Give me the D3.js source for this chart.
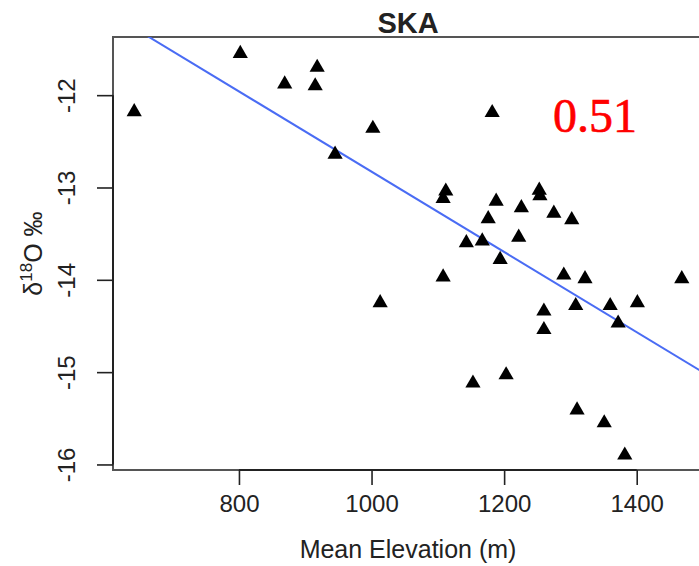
<!DOCTYPE html>
<html lang="en">
<head>
  <meta charset="UTF-8">
  <title>SKA</title>
  <script src="https://cdn.jsdelivr.net/npm/d3@7"></script>
  <style>
    body { margin: 0; background: #fff; }
    svg text { fill: #222; }
    .tick line { stroke: #222; stroke-width: 1.6; }
  </style>
</head>
<body>
  <svg></svg>
  <script>
  // mean elevation (m) and delta 18O (permil) per site
  var elevation = [642, 802, 869, 918, 915, 1002, 945, 1182, 1112, 1108,
    1188, 1176, 1143, 1167, 1194, 1108, 1013, 1253, 1254, 1226,
    1275, 1302, 1222, 1290, 1322, 1468, 1260, 1308, 1360, 1401,
    1372, 1260, 1203, 1310, 1351, 1382, 1153];
  var d18O = [-12.18, -11.55, -11.88, -11.70, -11.90, -12.36, -12.64, -12.19, -13.04, -13.12,
    -13.15, -13.34, -13.60, -13.58, -13.78, -13.97, -14.25, -13.03, -13.09, -13.22,
    -13.28, -13.35, -13.54, -13.95, -13.99, -13.99, -14.34, -14.28, -14.28, -14.25,
    -14.47, -14.54, -15.03, -15.41, -15.55, -15.90, -15.12];
  var xTicks = [800, 1000, 1200, 1400];
  var yTicks = [-16, -15, -14, -13, -12];
  var fitIntercept = -8.482, fitSlope = -0.004347;
  var title = "SKA", label = "0.51";

  var W = 699, H = 566,
    pLeft = 113, pRight = 703, pTop = 37, pBottom = 470,
    SANS = "Liberation Sans, Arial, sans-serif";

  var svg = d3.select("svg").attr("width", W).attr("height", H);

  var x = d3.scaleLinear().domain([610, 1500]).range([pLeft, pRight]);
  var y = d3.scaleLinear().domain([-16.06, -11.37]).range([pBottom, pTop]);

  svg.append("defs").append("clipPath").attr("id", "plot")
    .append("rect").attr("x", pLeft).attr("y", pTop)
    .attr("width", pRight - pLeft).attr("height", pBottom - pTop);

  // box
  svg.append("rect").attr("x", pLeft).attr("y", pTop)
    .attr("width", pRight - pLeft).attr("height", pBottom - pTop)
    .attr("fill", "none").attr("stroke", "#555").attr("stroke-width", 2);

  // axes
  var xAxis = svg.append("g").attr("transform", "translate(0," + pBottom + ")")
    .call(d3.axisBottom(x).tickValues(xTicks).tickSize(15).tickSizeOuter(0)
      .tickPadding(10).tickFormat(d3.format("d")));
  xAxis.select(".domain").remove();
  xAxis.selectAll("text").style("font-size", "24px").style("font-family", SANS);
  svg.append("line")
    .attr("x1", x(xTicks[0])).attr("x2", x(xTicks[xTicks.length - 1]))
    .attr("y1", pBottom).attr("y2", pBottom)
    .attr("stroke", "#222").attr("stroke-width", 2);

  var yAxis = svg.append("g").attr("transform", "translate(" + pLeft + ",0)")
    .call(d3.axisLeft(y).tickValues(yTicks).tickSize(16).tickSizeOuter(0)
      .tickFormat(function(d) { return String(d); }));
  yAxis.select(".domain").remove();
  yAxis.selectAll("text")
    .attr("x", null).attr("dy", null)
    .attr("text-anchor", "middle")
    .style("font-size", "24px").style("font-family", SANS)
    .attr("transform", "translate(-38,0)rotate(-90)");
  svg.append("line")
    .attr("x1", pLeft).attr("x2", pLeft)
    .attr("y1", y(yTicks[0])).attr("y2", y(yTicks[yTicks.length - 1]))
    .attr("stroke", "#222").attr("stroke-width", 2);

  // regression line
  var xs = x.domain();
  svg.append("line")
    .attr("clip-path", "url(#plot)")
    .attr("x1", x(xs[0])).attr("y1", y(fitIntercept + fitSlope * xs[0]))
    .attr("x2", x(xs[1])).attr("y2", y(fitIntercept + fitSlope * xs[1]))
    .attr("stroke", "#4a6cf4").attr("stroke-width", 2);

  // points
  var pts = elevation.map(function(e, i) { return { x: e, y: d18O[i] }; });
  svg.append("g").selectAll("path").data(pts).enter().append("path")
    .attr("d", d3.symbol().type(d3.symbolTriangle).size(100))
    .attr("transform", function(d) { return "translate(" + x(d.x) + "," + y(d.y) + ")"; })
    .attr("fill", "#000");

  // titles
  svg.append("text").attr("x", (pLeft + pRight) / 2).attr("y", 33)
    .attr("text-anchor", "middle")
    .style("font-family", SANS).style("font-size", "29px").style("font-weight", "bold")
    .text(title);

  svg.append("text").attr("x", (pLeft + pRight) / 2).attr("y", 558)
    .attr("text-anchor", "middle")
    .style("font-family", SANS).style("font-size", "25px")
    .text("Mean Elevation (m)");

  var yt = svg.append("text")
    .attr("transform", "translate(42," + (pTop + pBottom) / 2 + ")rotate(-90)")
    .attr("text-anchor", "middle")
    .style("font-family", SANS).style("font-size", "25px");
  yt.append("tspan").text("\u03b4");
  yt.append("tspan").style("font-size", "17px").attr("dy", -10).text("18");
  yt.append("tspan").attr("dy", 10).text("O \u2030");

  svg.append("text").attr("x", 553).attr("y", 132)
    .style("font-family", "Liberation Serif, serif").style("font-size", "48px")
    .style("fill", "#ff0000").style("stroke", "#ff0000").style("stroke-width", 0.6)
    .text(label);
  </script>
</body>
</html>
